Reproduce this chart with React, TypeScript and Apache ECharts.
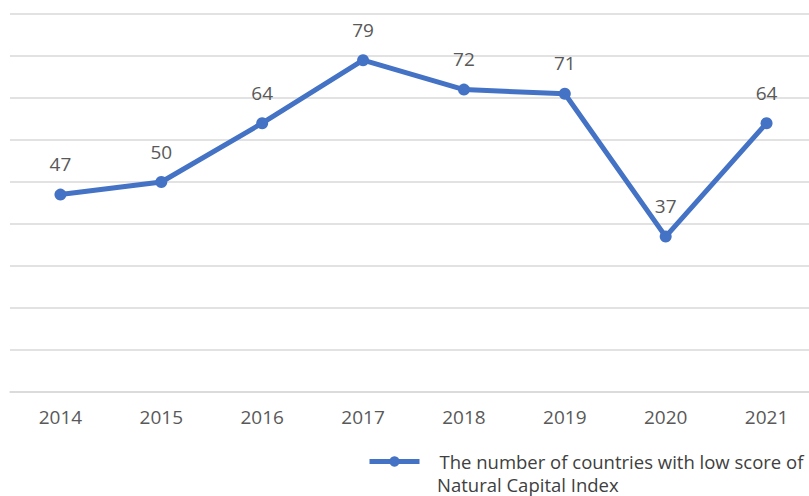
import React, { useEffect, useRef } from "react";
import * as echarts from "echarts";

const years = ["2014", "2015", "2016", "2017", "2018", "2019", "2020", "2021"];
const counts = [47, 50, 64, 79, 72, 71, 37, 64];
const seriesName = "The number of countries with low score of Natural Capital Index";
const legendLine1 = "The number of countries with low score of";
const legendLine2 = "Natural Capital Index";

export default function App() {
  const ref = useRef<HTMLDivElement>(null);
  useEffect(() => {
    const chart = echarts.init(ref.current!, null, { renderer: "svg" });
    chart.setOption({
      animation: false,
      grid: { left: 10, width: 807, top: 14, bottom: 104, outerBoundsMode: "none" },
      xAxis: {
        type: "category",
        data: years,
        boundaryGap: true,
        axisLine: { lineStyle: { color: "#d9d9d9", width: 1.5 } },
        axisTick: { show: false },
        axisLabel: { color: "#595959", fontSize: 19, fontFamily: "Open Sans", margin: 15 },
      },
      yAxis: {
        type: "value",
        min: 0,
        max: 90,
        interval: 10,
        axisLabel: { show: false },
        axisLine: { show: false },
        axisTick: { show: false },
        splitLine: { lineStyle: { color: "#d9d9d9", width: 1.5 } },
      },
      legend: {
        left: 367,
        top: 451,
        padding: 0,
        itemWidth: 50,
        itemHeight: 13,
        lineStyle: { width: 5 },
        formatter: () => legendLine1,
        textStyle: { color: "#404040", fontSize: 18.5, fontFamily: "Open Sans", lineHeight: 21, padding: [0, 0, 0, 15] },
      },
      graphic: [
        {
          type: "text",
          left: 437,
          top: 474,
          style: { text: legendLine2, fill: "#404040", fontSize: 18.5, fontFamily: "Open Sans", lineHeight: 20 },
        },
      ],
      series: [
        {
          name: seriesName,
          type: "line",
          data: counts,
          symbol: "circle",
          symbolSize: 12,
          lineStyle: { color: "#4472C4", width: 5 },
          itemStyle: { color: "#4472C4" },
          label: {
            show: true,
            position: "top",
            distance: 15,
            color: "#595959",
            fontSize: 19,
            fontFamily: "Open Sans",
          },
        },
      ],
    });
    return () => chart.dispose();
  }, []);
  return (
    <div
      ref={ref}
      style={{ position: "fixed", left: 0, top: 0, width: 809, height: 496, background: "#fff" }}
    />
  );
}
